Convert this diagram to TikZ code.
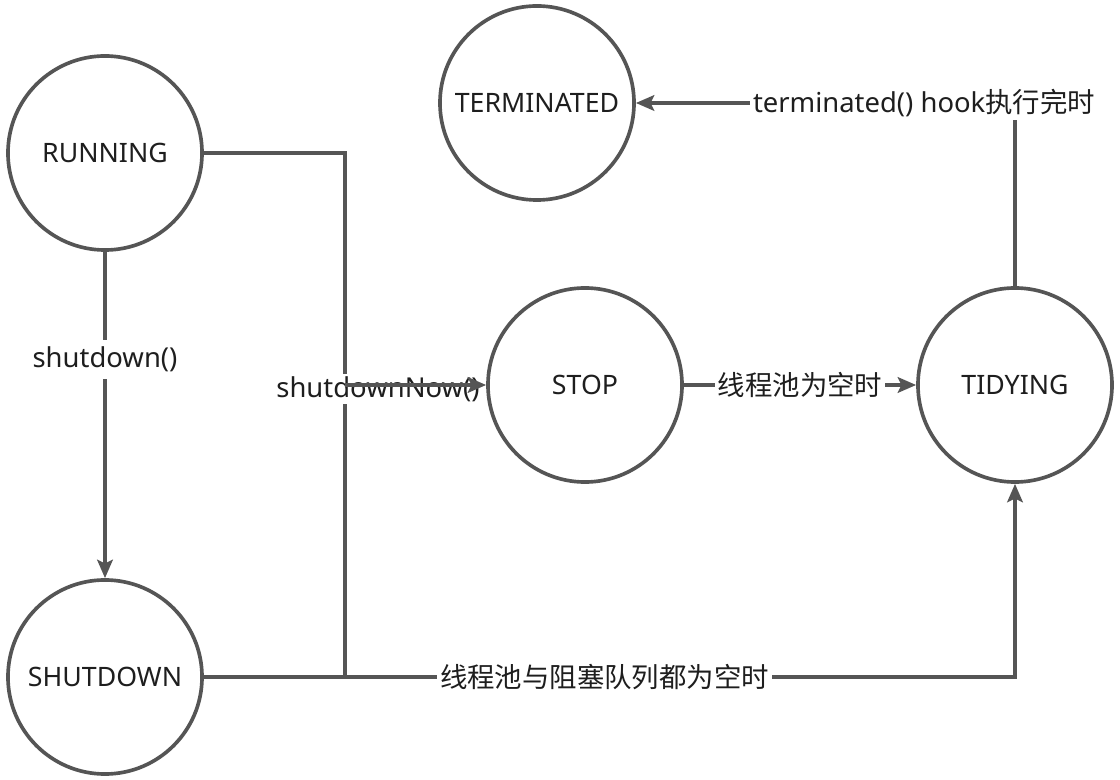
\documentclass[tikz,border=0pt]{standalone}
\usepackage{fontspec}
\setmainfont{Noto Sans}
\newfontfamily\cjk{Noto Sans CJK SC}
\usetikzlibrary{arrows.meta,positioning}
\definecolor{edgegray}{HTML}{555555}
\definecolor{textdark}{HTML}{1E1E1E}
\tikzset{
  state/.style={circle, draw=edgegray, line width=2.6pt, minimum size=4.85cm,
    inner sep=0pt, text=textdark, font=\fontsize{19}{23}\selectfont},
  line/.style={draw=edgegray, line width=2.6pt},
  arr/.style={line, -{Stealth[length=13pt, width=11pt, inset=2.5pt]}},
  lbl/.style={fill=white, inner sep=2pt, text=textdark,
    font=\fontsize{19.5}{23}\selectfont}
}
\begin{document}
\begin{tikzpicture}[x=0.025cm,y=-0.025cm]
  \useasboundingbox[fill=white] (0,0) rectangle (1120,780);
  % states
  \node[state] (run)  at (105,153) {RUNNING};
  \node[state] (shut) at (105,677) {SHUTDOWN};
  \node[state] (stop) at (585,385) {STOP};
  \node[state] (tidy) at (1015,385) {TIDYING};
  \node[state] (term) at (537,103) {TERMINATED};
  \coordinate (jt) at (345,385);
  % transitions
  \draw[arr] (run) -- node[lbl, pos=0.33, inner sep=5pt] {shutdown()} (shut);
  \draw[line] (run.east) -| (jt);
  \draw[line] (shut.east) -| (jt);
  \node[lbl] (nowlbl) at (378,389) {shutdownNow()};
  \draw[arr] (jt) -- (stop);
  \draw[arr] (stop) -- node[lbl] {{\cjk 线程池为空时}} (tidy);
  \draw[arr] (shut.east) -| node[lbl, pos=0.247] {{\cjk 线程池与阻塞队列都为空时}} (tidy.south);
  \draw[arr] (tidy.north) |- node[lbl, pos=0.62] {terminated() hook{\cjk 执行完时}} (term.east);
\end{tikzpicture}
\end{document}
